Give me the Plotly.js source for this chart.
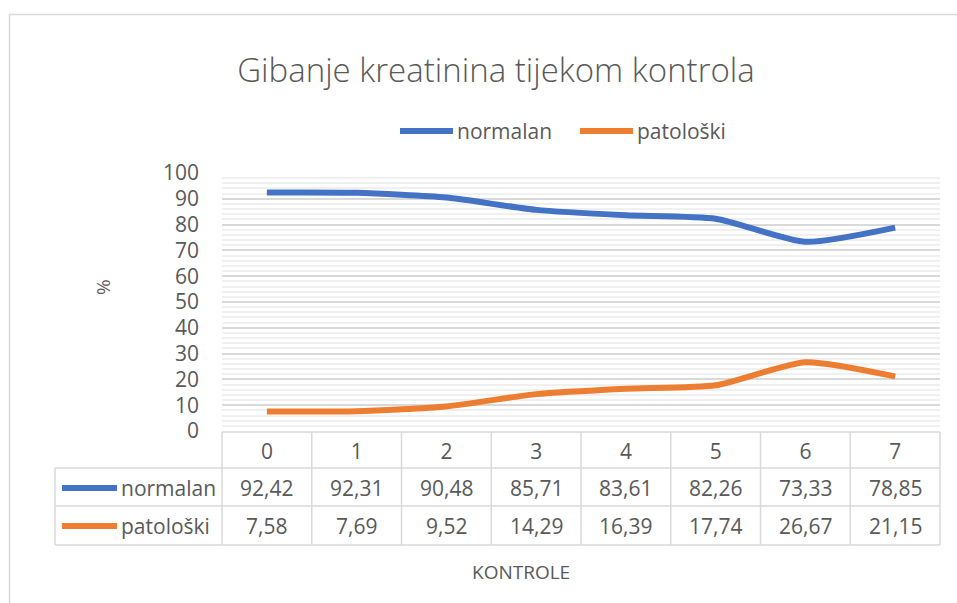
<!DOCTYPE html>
<html>
<head>
<meta charset="utf-8">
<script src="https://cdn.plot.ly/plotly-3.0.1.min.js"></script>
<style>html,body{margin:0;padding:0;background:#fff;}#chart{width:957px;height:603px;}</style>
</head>
<body>
<div id="chart"></div>
<script>
const categories = ['0', '1', '2', '3', '4', '5', '6', '7'];
const normalan = [92.42, 92.31, 90.48, 85.71, 83.61, 82.26, 73.33, 78.85];
const patoloski = [7.58, 7.69, 9.52, 14.29, 16.39, 17.74, 26.67, 21.15];
const seriesNames = ['normalan', 'patološki'];
const seriesColors = ['#4472C4', '#ED7D31'];
const chartTitle = 'Gibanje kreatinina tijekom kontrola';
const xTitle = 'KONTROLE';
const yTitle = '%';

const FONT = 'Open Sans, Noto Sans, sans-serif';
const TXT = '#595959';
const GRID = '#d9d9d9';

// plot area in px: x 222..940, y 173..431
const L = 222, R = 940, T = 173, B = 431;
const W = R - L, H = B - T;
const px = v => (v - L) / W;
const py = v => (B - v) / H;

const fmt = v => v.toFixed(2).replace('.', ',');
const allSeries = [normalan, patoloski];

const traces = allSeries.map((s, i) => ({
  type: 'scatter', mode: 'lines', name: seriesNames[i],
  x: categories.map((c, k) => k), y: s,
  line: {color: seriesColors[i], width: 6, shape: 'spline', smoothing: 0.6},
  hoverinfo: 'x+y+name'
}));

const shapes = [];
const annotations = [];
const line = (x0, y0, x1, y1, color, width) => shapes.push({type: 'line', xref: 'paper', yref: 'paper', x0, y0, x1, y1, line: {color, width}, layer: 'above'});

// outer chart border
shapes.push({type: 'rect', xref: 'paper', yref: 'paper', x0: px(9.5), y0: py(14.5), x1: px(975), y1: py(620), line: {color: '#d9d9d9', width: 1.5}, layer: 'below'});

// data table grid
const rowY = [432, 468, 506, 545];
const tableLeft = 55;
line(px(L), py(rowY[0]), px(R), py(rowY[0]), GRID, 1.5);
for (let r = 1; r < rowY.length; r++) line(px(tableLeft), py(rowY[r]), px(R), py(rowY[r]), GRID, 1.5);
for (let k = 0; k <= categories.length; k++) line(k / categories.length, py(rowY[0]), k / categories.length, py(rowY[3]), GRID, 1.5);
line(px(tableLeft), py(rowY[1]), px(tableLeft), py(rowY[3]), GRID, 1.5);

// table rows: legend keys + values
const rowCenters = [488, 526];
allSeries.forEach((s, i) => {
  const yc = py(rowCenters[i]);
  shapes.push({type: 'line', xref: 'paper', yref: 'paper', x0: px(62), x1: px(117), y0: yc, y1: yc, line: {color: seriesColors[i], width: 6}, layer: 'above'});
  annotations.push({xref: 'paper', yref: 'paper', x: px(119), y: yc, xanchor: 'left', yanchor: 'middle', showarrow: false, text: seriesNames[i], font: {family: FONT, size: 21, color: TXT}});
  s.forEach((v, k) => annotations.push({xref: 'x', yref: 'paper', x: k, y: yc, xanchor: 'center', yanchor: 'middle', showarrow: false, text: fmt(v), font: {family: FONT, size: 21, color: TXT}}));
});

// top legend
const legY = py(131);
const legX = [398, 578];
seriesNames.forEach((n, i) => {
  shapes.push({type: 'line', xref: 'paper', yref: 'paper', x0: px(legX[i] + 2), x1: px(legX[i] + 55), y0: legY, y1: legY, line: {color: seriesColors[i], width: 6}, layer: 'above'});
  annotations.push({xref: 'paper', yref: 'paper', x: px(legX[i] + 57), y: legY, xanchor: 'left', yanchor: 'middle', showarrow: false, text: n, font: {family: FONT, size: 21, color: TXT}});
});

// x axis title
annotations.push({xref: 'paper', yref: 'paper', x: px(521), y: py(572), xanchor: 'center', yanchor: 'middle', showarrow: false, text: xTitle, font: {family: FONT, size: 19, color: TXT}});
// y axis title
annotations.push({xref: 'paper', yref: 'paper', x: px(103), y: py(287), xanchor: 'center', yanchor: 'middle', showarrow: false, textangle: -90, text: yTitle, font: {family: FONT, size: 19, color: TXT}});

const layout = {
  width: 957, height: 603,
  margin: {l: L, r: 957 - R, t: T, b: 603 - B, pad: 0},
  paper_bgcolor: '#fff', plot_bgcolor: '#fff',
  showlegend: false,
  title: {text: chartTitle, x: 496 / 957, xref: 'container', xanchor: 'center', y: 1 - 70 / 603, yref: 'container', yanchor: 'middle', font: {family: FONT, size: 33, color: TXT, weight: 300}},
  xaxis: {
    range: [-0.5, categories.length - 0.5], tickmode: 'array', tickvals: categories.map((c, k) => k), ticktext: categories,
    showgrid: false, zeroline: false, showline: false, ticks: '', fixedrange: true,
    tickfont: {family: FONT, size: 21, color: TXT}, ticklabelstandoff: 6
  },
  yaxis: {
    range: [0, 100], dtick: 10, tick0: 0, showgrid: true, gridcolor: GRID, gridwidth: 1.5,
    zeroline: false, showline: false, ticks: '', fixedrange: true,
    minor: {dtick: 2, showgrid: true, gridcolor: '#f0f0f0', gridwidth: 1.5},
    tickfont: {family: FONT, size: 21, color: TXT}, ticklabelstandoff: 22
  },
  shapes, annotations
};

Plotly.newPlot('chart', traces, layout, {displayModeBar: false, responsive: false});
</script>
</body>
</html>
